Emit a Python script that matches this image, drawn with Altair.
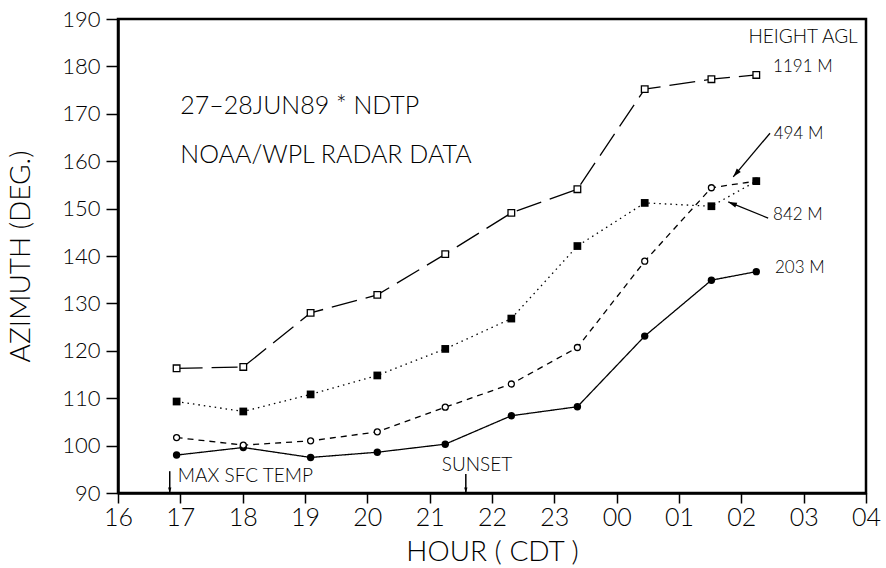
import altair as alt
import pandas as pd

# ---- data ----
hours = [16.94, 18.01, 19.09, 20.16, 21.25, 22.31, 23.37, 24.45, 25.52, 26.24]
az_203 = [98.0, 99.6, 97.5, 98.6, 100.3, 106.3, 108.2, 123.1, 134.9, 136.7]
az_494 = [101.7, 100.1, 101.0, 102.9, 108.1, 113.0, 120.7, 138.9, 154.4, 155.8]
az_842 = [109.3, 107.2, 110.8, 114.8, 120.4, 126.8, 142.1, 151.2, 150.5, 155.8]
az_1191 = [116.3, 116.6, 128.0, 131.8, 140.4, 149.1, 154.1, 175.2, 177.3, 178.2]

series_names = ["203 M", "494 M", "842 M", "1191 M"]

note_text = ["27\u201328JUN89 * NDTP", "NOAA/WPL RADAR DATA"]
note_hour = [17.0, 17.0]
note_az = [171.6, 161.3]

header_text = ["HEIGHT AGL"]
header_hour = [26.99]
header_az = [186.1]

label_text = ["1191 M", "494 M", "842 M", "203 M"]
label_hour = [26.51, 26.52, 26.51, 26.54]
label_az = [179.9, 165.7, 148.6, 137.5]

# arrows from labels to curves (start -> tip)
arrow_h1 = [26.46, 26.43]
arrow_a1 = [165.9, 148.0]
arrow_h2 = [25.87, 25.79]
arrow_a2 = [156.7, 151.4]
arrow_angle = [220, 292]

event_text = ["MAX SFC TEMP", "SUNSET"]
event_text_hour = [16.96, 21.76]
event_text_az = [93.6, 95.9]
event_text_align = ["left", "center"]
event_arrow_hour = [16.83, 21.58]
event_arrow_top = [94.6, 94.0]
event_arrow_tip = [90.0, 90.0]

x_ticks = [16 + 0.5 * i for i in range(25)]
y_ticks = list(range(90, 191, 10))

FONT = "Lato"
FW = 300

xs = alt.Scale(domain=[16, 28], nice=False, zero=False)
ys = alt.Scale(domain=[90, 190], nice=False, zero=False)

def series_df(vals, name):
    return pd.DataFrame({"hour": hours, "az": vals, "series": name})

x_enc = alt.X(
    "hour:Q",
    scale=xs,
    axis=alt.Axis(
        values=x_ticks,
        labelExpr="datum.value % 1 != 0 ? '' : (datum.value % 24 < 10 ? '0' + (datum.value % 24) : '' + (datum.value % 24))",
        tickSize={"condition": {"test": "datum.value % 1 != 0", "value": 5}, "value": 10},
        labelFlush=False,
        title="HOUR ( CDT )",
    ),
)
y_enc = alt.Y(
    "az:Q",
    scale=ys,
    axis=alt.Axis(values=y_ticks, title="AZIMUTH (DEG.)", tickSize=12, labelFlush=False),
)

styles = {
    "203 M": dict(dash=[1, 0], shape="circle", filled=True, size=55),
    "494 M": dict(dash=[6, 5], shape="circle", filled=False, size=36),
    "842 M": dict(dash=[1.5, 4], shape="square", filled=True, size=60),
    "1191 M": dict(dash=[26, 9], shape="square", filled=False, size=44),
}
vals = {"203 M": az_203, "494 M": az_494, "842 M": az_842, "1191 M": az_1191}

layers = []
for name in series_names:
    st = styles[name]
    df = series_df(vals[name], name)
    base = alt.Chart(df)
    layers.append(
        base.mark_line(color="black", strokeWidth=1.3, strokeDash=st["dash"]).encode(x=x_enc, y=y_enc)
    )
    layers.append(
        base.mark_point(
            shape=st["shape"], filled=st["filled"], size=st["size"], color="black",
            strokeWidth=1.3, opacity=1, fill="black" if st["filled"] else "white",
        ).encode(x=alt.X("hour:Q", scale=xs), y=alt.Y("az:Q", scale=ys))
    )

# texts
notes = pd.DataFrame({"t": note_text, "hour": note_hour, "az": note_az})
layers.append(
    alt.Chart(notes).mark_text(align="left", baseline="middle", font=FONT, fontWeight=FW, fontSize=25, color="black")
    .encode(x=alt.X("hour:Q", scale=xs), y=alt.Y("az:Q", scale=ys), text="t:N")
)
header = pd.DataFrame({"t": header_text, "hour": header_hour, "az": header_az})
layers.append(
    alt.Chart(header).mark_text(align="center", baseline="middle", font=FONT, fontWeight=FW, fontSize=19, color="black")
    .encode(x=alt.X("hour:Q", scale=xs), y=alt.Y("az:Q", scale=ys), text="t:N")
)
labels = pd.DataFrame({"t": label_text, "hour": label_hour, "az": label_az})
layers.append(
    alt.Chart(labels).mark_text(align="left", baseline="middle", font=FONT, fontWeight=FW, fontSize=17, color="black")
    .encode(x=alt.X("hour:Q", scale=xs), y=alt.Y("az:Q", scale=ys), text="t:N")
)

# label arrows
arrows = pd.DataFrame({"h1": arrow_h1, "a1": arrow_a1, "h2": arrow_h2, "a2": arrow_a2, "ang": arrow_angle})
layers.append(
    alt.Chart(arrows).mark_rule(color="black", strokeWidth=1.3)
    .encode(x=alt.X("h1:Q", scale=xs), y=alt.Y("a1:Q", scale=ys), x2="h2:Q", y2="a2:Q")
)
ARROW = "M0,0 L0.3,1 L-0.3,1 Z"
layers.append(
    alt.Chart(arrows).mark_point(shape=ARROW, filled=True, color="black", size=300, opacity=1)
    .encode(x=alt.X("h2:Q", scale=xs), y=alt.Y("a2:Q", scale=ys), angle=alt.Angle("ang:Q", scale=None))
)

# event markers
ev = pd.DataFrame({
    "t": event_text, "th": event_text_hour, "ta": event_text_az, "al": event_text_align,
    "ah": event_arrow_hour, "top": event_arrow_top, "tip": event_arrow_tip,
})
layers.append(
    alt.Chart(ev).transform_filter("datum.al == 'left'")
    .mark_text(align="left", baseline="middle", font=FONT, fontWeight=FW, fontSize=19, color="black")
    .encode(x=alt.X("th:Q", scale=xs), y=alt.Y("ta:Q", scale=ys), text="t:N")
)
layers.append(
    alt.Chart(ev).transform_filter("datum.al == 'center'")
    .mark_text(align="center", baseline="middle", font=FONT, fontWeight=FW, fontSize=19, color="black")
    .encode(x=alt.X("th:Q", scale=xs), y=alt.Y("ta:Q", scale=ys), text="t:N")
)
layers.append(
    alt.Chart(ev).mark_rule(color="black", strokeWidth=1.5)
    .encode(x=alt.X("ah:Q", scale=xs), y=alt.Y("top:Q", scale=ys), y2="tip:Q")
)
layers.append(
    alt.Chart(ev).mark_point(shape=ARROW, filled=True, color="black", size=120, opacity=1, angle=180)
    .encode(x=alt.X("ah:Q", scale=xs), y=alt.Y("tip:Q", scale=ys))
)

chart = (
    alt.layer(*layers)
    .properties(
        width=748, height=474,
        autosize=alt.AutoSizeParams(type="none"),
        padding={"left": 118, "top": 19, "right": 20, "bottom": 75},
        background="white",
    )
    .configure_view(stroke="black", strokeWidth=2.5)
    .configure_axis(
        grid=False, domainColor="black", domainWidth=2.5, tickColor="black", tickWidth=1.5,
        labelFont=FONT, titleFont=FONT, labelColor="black", titleColor="black",
        titleFontWeight=FW, labelFontWeight=FW,
    )
    .configure_axisX(labelFontSize=25, labelPadding=2, titleFontSize=28, titlePadding=8)
    .configure_axisY(labelFontSize=22, labelPadding=6, titleFontSize=28, titlePadding=26)
)

chart.save("out.html", embed_options={"renderer": "svg", "actions": False})
